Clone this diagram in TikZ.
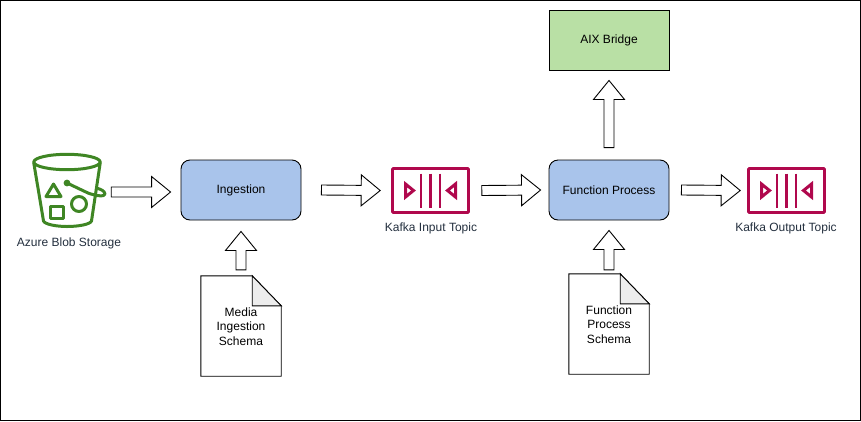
\documentclass[tikz,border=0pt]{standalone}
\usepackage{fontspec}
\setmainfont{Liberation Sans}
\usetikzlibrary{calc,shapes.geometric}
\definecolor{boxblue}{HTML}{A9C4EB}
\definecolor{boxgreen}{HTML}{B9E0A5}
\definecolor{kafkared}{HTML}{B0084D}
\definecolor{bucketgreen}{HTML}{3F8624}
\definecolor{awstext}{HTML}{232F3E}
\newcommand{\blockarrow}[2]{%
  \coordinate (ba-s) at (#1);
  \coordinate (ba-e) at (#2);
  \coordinate (ba-h) at ($(ba-e)!19pt!(ba-s)$);
  \draw[blockarr] ($(ba-s)!5pt!90:(ba-e)$) -- ($(ba-h)!5pt!90:(ba-e)$) -- ($(ba-h)!15.5pt!90:(ba-e)$) -- (ba-e)
    -- ($(ba-h)!15.5pt!-90:(ba-e)$) -- ($(ba-h)!5pt!-90:(ba-e)$) -- ($(ba-s)!5pt!-90:(ba-e)$) -- cycle;
}
\newcommand{\kafkaicon}[1]{%
  \begin{scope}[shift={(#1)}]
    \foreach \dx in {-9.5,0,9.5} \draw[kafkaline] (\dx,-17) -- (\dx,17);
    \draw[kafkaline,line width=3pt,line join=miter] (-25,-6.5) -- (-17,0) -- (-25,6.5) -- cycle;
    \draw[kafkaline,line width=3pt,line join=miter] (25,-6.5) -- (17,0) -- (25,6.5) -- cycle;
  \end{scope}
}
\newcommand{\docshape}[1]{%
  \draw[blackline,fill=white] (#1.north west) -- ([xshift=-29]#1.north east) -- ([yshift=-30]#1.north east) -- (#1.south east) -- (#1.south west) -- cycle;
  \draw[blackline,fill=black!7] ([xshift=-29]#1.north east) -- ([yshift=-30]#1.north east) -- ([xshift=-29,yshift=-30]#1.north east) -- cycle;
}
\tikzset{
  blackline/.style={draw=black,line width=0.9pt,line join=miter},
  blockarr/.style={draw=black,fill=white,line width=0.9pt,line join=miter},
  txt/.style={font=\fontsize{12}{14.5}\selectfont,text=black,align=center,inner sep=0pt},
  awslabel/.style={txt,text=awstext},
  procbox/.style={draw=black,fill=boxblue,line width=0.9pt,rounded corners=9,minimum width=120,minimum height=60,txt},
  greenbox/.style={draw=black,fill=boxgreen,line width=0.9pt,minimum width=120,minimum height=60,txt},
  kafkabox/.style={draw=kafkared,line width=2.6pt,minimum width=76,minimum height=44,inner sep=0pt,rounded corners=0.8},
  kafkaline/.style={draw=kafkared,line width=2.6pt},
  docbox/.style={minimum width=80,minimum height=100,inner sep=0pt},
  bucketline/.style={draw=bucketgreen,line width=3pt,line cap=round,line join=round},
}
\begin{document}
\begin{tikzpicture}[x=1pt,y=-1pt]
\useasboundingbox (0,0) rectangle (861,421);
\draw[black,line width=1pt] (0.5,0.5) rectangle (860.5,420.5);

% Azure bucket
\node[minimum width=74,minimum height=72,inner sep=0pt] (blob) at (69,189) {};
\draw[bucketline] (67,162) ellipse [x radius=33.2,y radius=7.7];
\draw[bucketline] (33.8,163) -- (43.5,221) .. controls (45,224.5) and (57,226.5) .. (67,226.5) .. controls (78,226.5) and (90,224.5) .. (91.5,221) -- (100.2,163);
\draw[bucketline] (53.5,184) -- (61,196.5) -- (46,196.5) -- cycle;
\draw[bucketline] (50.5,206.5) rectangle (63,218);
\draw[bucketline] (79,204) circle [radius=7.5];
\draw[bucketline] (67,183) -- (88,193) .. controls (96,196) and (105,197) .. (105,194) .. controls (105,191) and (100,189) .. (98,188.5);
\fill[bucketgreen] (67,183) circle [radius=3.4];
\node[awslabel] (bloblabel) at (69,243) {Azure Blob Storage};

% process boxes
\node[procbox] (ing) at (241,190) {Ingestion};
\node[procbox] (fn) at (609,190) {Function Process};
\node[greenbox] (aix) at (609,40) {AIX Bridge};

% Kafka
\node[kafkabox,draw] (k1) at (430.5,190.5) {};
\kafkaicon{k1}
\node[awslabel] (k1label) at (431,228) {Kafka Input Topic};
\node[kafkabox,draw] (k2) at (786.5,190.5) {};
\kafkaicon{k2}
\node[awslabel] (k2label) at (786,228) {Kafka Output Topic};

% Documents
\node[docbox] (d1) at (241,326) {};
\docshape{d1}
\node[txt] (d1t) at (241,326.5) {Media\\Ingestion\\Schema};
\node[docbox] (d2) at (609,324) {};
\docshape{d2}
\node[txt] (d2t) at (609,324.5) {Function\\Process\\Schema};

% Block arrows
\blockarrow{[xshift=5,yshift=-3]blob.east}{[xshift=-10,yshift=-2]ing.west}
\blockarrow{[xshift=20]ing.east}{[xshift=-11]k1.west}
\blockarrow{[xshift=12]k1.east}{[xshift=-8]fn.west}
\blockarrow{[xshift=12]fn.east}{[xshift=-7]k2.west}
\blockarrow{[yshift=6]d1.north}{[yshift=-11]ing.south}
\blockarrow{[yshift=4]d2.north}{[yshift=-10]fn.south}
\blockarrow{[yshift=12]fn.north}{[yshift=-10]aix.south}
\end{tikzpicture}
\end{document}
